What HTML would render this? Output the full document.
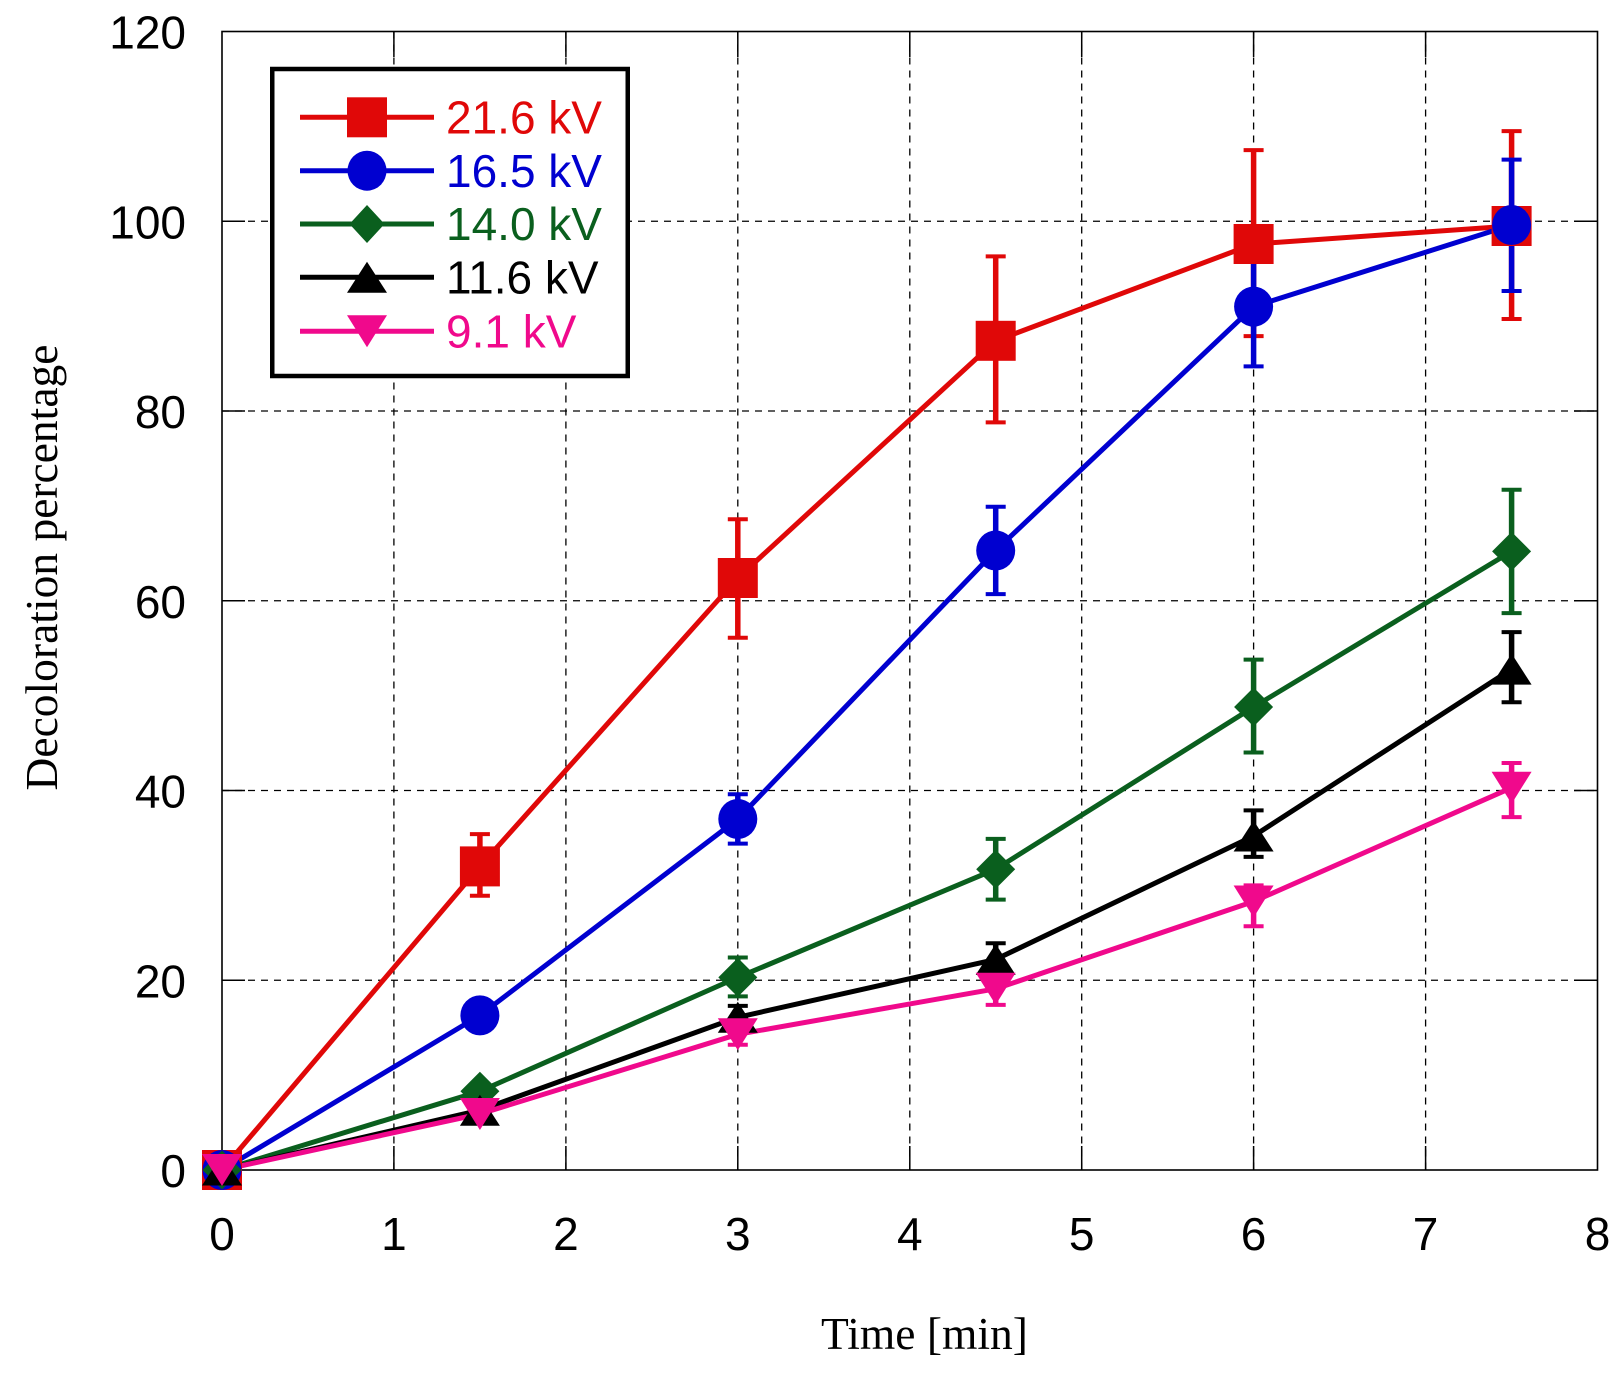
<!DOCTYPE html>
<html><head><meta charset="utf-8"><style>
html,body{margin:0;padding:0;background:#fff;}
svg{display:block;}
</style></head><body>
<svg width="1622" height="1381" viewBox="0 0 1622 1381" xmlns="http://www.w3.org/2000/svg">
<rect x="0" y="0" width="1622" height="1381" fill="#fff"/>
<!-- grid -->
<g stroke="#000" stroke-width="1.3" stroke-dasharray="7 6" fill="none">
<line x1="393.9" y1="31.5" x2="393.9" y2="1170"/>
<line x1="565.9" y1="31.5" x2="565.9" y2="1170"/>
<line x1="737.8" y1="31.5" x2="737.8" y2="1170"/>
<line x1="909.8" y1="31.5" x2="909.8" y2="1170"/>
<line x1="1081.7" y1="31.5" x2="1081.7" y2="1170"/>
<line x1="1253.6" y1="31.5" x2="1253.6" y2="1170"/>
<line x1="1425.6" y1="31.5" x2="1425.6" y2="1170"/>
<line x1="222" y1="980.25" x2="1597.5" y2="980.25"/>
<line x1="222" y1="790.5" x2="1597.5" y2="790.5"/>
<line x1="222" y1="600.75" x2="1597.5" y2="600.75"/>
<line x1="222" y1="411" x2="1597.5" y2="411"/>
<line x1="222" y1="221.25" x2="1597.5" y2="221.25"/>
</g>
<!-- ticks -->
<g stroke="#000" stroke-width="1.5">
<line x1="393.9" y1="1170" x2="393.9" y2="1146"/><line x1="565.9" y1="1170" x2="565.9" y2="1146"/>
<line x1="737.8" y1="1170" x2="737.8" y2="1146"/><line x1="909.8" y1="1170" x2="909.8" y2="1146"/>
<line x1="1081.7" y1="1170" x2="1081.7" y2="1146"/><line x1="1253.6" y1="1170" x2="1253.6" y2="1146"/>
<line x1="1425.6" y1="1170" x2="1425.6" y2="1146"/>
<line x1="393.9" y1="31.5" x2="393.9" y2="57"/><line x1="565.9" y1="31.5" x2="565.9" y2="57"/>
<line x1="737.8" y1="31.5" x2="737.8" y2="57"/><line x1="909.8" y1="31.5" x2="909.8" y2="57"/>
<line x1="1081.7" y1="31.5" x2="1081.7" y2="57"/><line x1="1253.6" y1="31.5" x2="1253.6" y2="57"/>
<line x1="1425.6" y1="31.5" x2="1425.6" y2="57"/>
<line x1="222" y1="980.25" x2="245" y2="980.25"/><line x1="222" y1="790.5" x2="245" y2="790.5"/>
<line x1="222" y1="600.75" x2="245" y2="600.75"/><line x1="222" y1="411" x2="245" y2="411"/>
<line x1="222" y1="221.25" x2="245" y2="221.25"/>
<line x1="1597.5" y1="980.25" x2="1574" y2="980.25"/><line x1="1597.5" y1="790.5" x2="1574" y2="790.5"/>
<line x1="1597.5" y1="600.75" x2="1574" y2="600.75"/><line x1="1597.5" y1="411" x2="1574" y2="411"/>
<line x1="1597.5" y1="221.25" x2="1574" y2="221.25"/>
</g>
<rect x="222" y="31.5" width="1375.5" height="1138.5" fill="none" stroke="#000" stroke-width="1.6"/>

<!-- series lines -->
<g fill="none" stroke-width="5" stroke-linejoin="round">
<polyline stroke="#E00808" points="222,1170 479.9,866.4 737.8,578 995.7,340.8 1253.6,244 1511.6,226"/>
<polyline stroke="#0000D0" points="222,1170 479.9,1015.4 737.8,819 995.7,550.5 1253.6,306.6 1511.6,225"/>
<polyline stroke="#0A5F1E" points="222,1170 479.9,1091.3 737.8,977.4 995.7,869.2 1253.6,707 1511.6,551.4"/>
<polyline stroke="#000000" points="222,1170 479.9,1110.2 737.8,1017.3 995.7,959.4 1253.6,836 1511.6,669.1"/>
<polyline stroke="#F0098C" points="222,1170 479.9,1114 737.8,1034.3 995.7,988.8 1253.6,901.5 1511.6,787.7"/>
</g>

<!-- error bars -->
<g fill="none">
<g stroke="#E00808">
<path stroke-width="5.5" d="M479.9,834.1V895.8M737.8,519.2V637.8M995.7,256.4V422.4M1253.6,150.1V336.1M1511.6,131.1V319"/>
<path stroke-width="4" d="M469.9,834.1h20M469.9,895.8h20M727.8,519.2h20M727.8,637.8h20M985.7,256.4h20M985.7,422.4h20M1243.6,150.1h20M1243.6,336.1h20M1501.6,131.1h20M1501.6,319h20"/>
</g>
<g stroke="#0000D0">
<path stroke-width="5.5" d="M479.9,1004V1026.7M737.8,794.3V843.6M995.7,506.8V594.1M1253.6,246.9V366.4M1511.6,159.6V291"/>
<path stroke-width="4" d="M727.8,794.3h20M727.8,843.6h20M985.7,506.8h20M985.7,594.1h20M1243.6,246.9h20M1243.6,366.4h20M1501.6,159.6h20M1501.6,291h20"/>
</g>
<g stroke="#0A5F1E">
<path stroke-width="5.5" d="M479.9,1081.8V1100.7M737.8,957.5V996.4M995.7,838.9V899.6M1253.6,659.6V752.5M1511.6,489.7V613.1"/>
<path stroke-width="4" d="M727.8,957.5h20M727.8,996.4h20M985.7,838.9h20M985.7,899.6h20M1243.6,659.6h20M1243.6,752.5h20M1501.6,489.7h20M1501.6,613.1h20"/>
</g>
<g stroke="#000">
<path stroke-width="5.5" d="M479.9,1103.6V1116.9M737.8,1005.9V1028.6M995.7,943.2V975.5M1253.6,810.4V856.9M1511.6,632.1V702.3"/>
<path stroke-width="4" d="M727.8,1005.9h20M727.8,1028.6h20M985.7,943.2h20M985.7,975.5h20M1243.6,810.4h20M1243.6,856.9h20M1501.6,632.1h20M1501.6,702.3h20"/>
</g>
<g stroke="#F0098C">
<path stroke-width="5.5" d="M479.9,1108.3V1119.7M737.8,1024.8V1044.8M995.7,971.7V1004.9M1253.6,885.4V926.2M1511.6,763V817.1"/>
<path stroke-width="4" d="M727.8,1024.8h20M727.8,1044.8h20M985.7,971.7h20M985.7,1004.9h20M1243.6,885.4h20M1243.6,926.2h20M1501.6,763h20M1501.6,817.1h20"/>
</g>
</g>

<defs>
<rect id="sq" x="-20" y="-20" width="40" height="40"/>
<ellipse id="ci" cx="0" cy="0" rx="19.5" ry="20"/>
<polygon id="di" points="0,-19.5 19.5,0 0,19.5 -19.5,0"/>
<polygon id="tu" points="0,-15.5 20,15.5 -20,15.5"/>
<polygon id="td" points="-20,-16 20,-16 0,16"/>
</defs>

<!-- markers -->
<g fill="#E00808">
<use href="#sq" x="222" y="1170"/><use href="#sq" x="479.9" y="866.4"/><use href="#sq" x="737.8" y="578"/>
<use href="#sq" x="995.7" y="340.8"/><use href="#sq" x="1253.6" y="244"/><use href="#sq" x="1511.6" y="226"/>
</g>
<g fill="#0000D0">
<use href="#ci" x="222" y="1170"/><use href="#ci" x="479.9" y="1015.4"/><use href="#ci" x="737.8" y="819"/>
<use href="#ci" x="995.7" y="550.5"/><use href="#ci" x="1253.6" y="306.6"/><use href="#ci" x="1511.6" y="225"/>
</g>
<g fill="#0A5F1E">
<use href="#di" x="222" y="1170"/><use href="#di" x="479.9" y="1091.3"/><use href="#di" x="737.8" y="977.4"/>
<use href="#di" x="995.7" y="869.2"/><use href="#di" x="1253.6" y="707"/><use href="#di" x="1511.6" y="551.4"/>
</g>
<g fill="#000">
<use href="#tu" x="222" y="1170"/><use href="#tu" x="479.9" y="1110.2"/><use href="#tu" x="737.8" y="1017.3"/>
<use href="#tu" x="995.7" y="959.4"/><use href="#tu" x="1253.6" y="836"/><use href="#tu" x="1511.6" y="669.1"/>
</g>
<g fill="#F0098C">
<use href="#td" x="222" y="1170"/><use href="#td" x="479.9" y="1114"/><use href="#td" x="737.8" y="1034.3"/>
<use href="#td" x="995.7" y="988.8"/><use href="#td" x="1253.6" y="901.5"/><use href="#td" x="1511.6" y="787.7"/>
</g>

<!-- tick labels -->
<g font-family="'Liberation Sans', Arial, sans-serif" font-size="46" fill="#000">
<g text-anchor="end">
<text x="186" y="1187">0</text>
<text x="186" y="997.3">20</text>
<text x="186" y="807.5">40</text>
<text x="186" y="617.8">60</text>
<text x="186" y="428">80</text>
<text x="186" y="238.3">100</text>
<text x="186" y="48.5">120</text>
</g>
<g text-anchor="middle">
<text x="222" y="1250">0</text>
<text x="393.9" y="1250">1</text>
<text x="565.9" y="1250">2</text>
<text x="737.8" y="1250">3</text>
<text x="909.8" y="1250">4</text>
<text x="1081.7" y="1250">5</text>
<text x="1253.6" y="1250">6</text>
<text x="1425.6" y="1250">7</text>
<text x="1597.5" y="1250">8</text>
</g>
</g>

<!-- axis titles -->
<text x="924.5" y="1349" text-anchor="middle" font-family="'Liberation Serif', 'Times New Roman', serif" font-size="45.5" fill="#000">Time [min]</text>
<text transform="translate(57,567.5) rotate(-90)" text-anchor="middle" font-family="'Liberation Serif', 'Times New Roman', serif" font-size="45.5" fill="#000">Decoloration percentage</text>

<!-- legend -->
<rect x="272.25" y="69" width="355.5" height="307" fill="#fff" stroke="#000" stroke-width="4.5"/>
<g stroke-width="5">
<line x1="300" y1="117.3" x2="434" y2="117.3" stroke="#E00808"/>
<line x1="300" y1="170.7" x2="434" y2="170.7" stroke="#0000D0"/>
<line x1="300" y1="224" x2="434" y2="224" stroke="#0A5F1E"/>
<line x1="300" y1="277.3" x2="434" y2="277.3" stroke="#000"/>
<line x1="300" y1="331.3" x2="434" y2="331.3" stroke="#F0098C"/>
</g>
<use href="#sq" x="367" y="117.3" fill="#E00808"/>
<use href="#ci" x="367" y="170.7" fill="#0000D0"/>
<polygon points="367,205 384.5,224 367,243 349.5,224" fill="#0A5F1E"/>
<use href="#tu" x="367" y="277.3" fill="#000"/>
<use href="#td" x="367" y="331.3" fill="#F0098C"/>
<g font-family="'Liberation Sans', Arial, sans-serif" font-size="46">
<text x="446" y="133.5" fill="#E00808">21.6 kV</text>
<text x="446" y="186.9" fill="#0000D0">16.5 kV</text>
<text x="446" y="240.2" fill="#0A5F1E">14.0 kV</text>
<text x="446" y="293.5" fill="#000">11.6 kV</text>
<text x="446" y="347.5" fill="#F0098C">9.1 kV</text>
</g>
</svg>
</body></html>
